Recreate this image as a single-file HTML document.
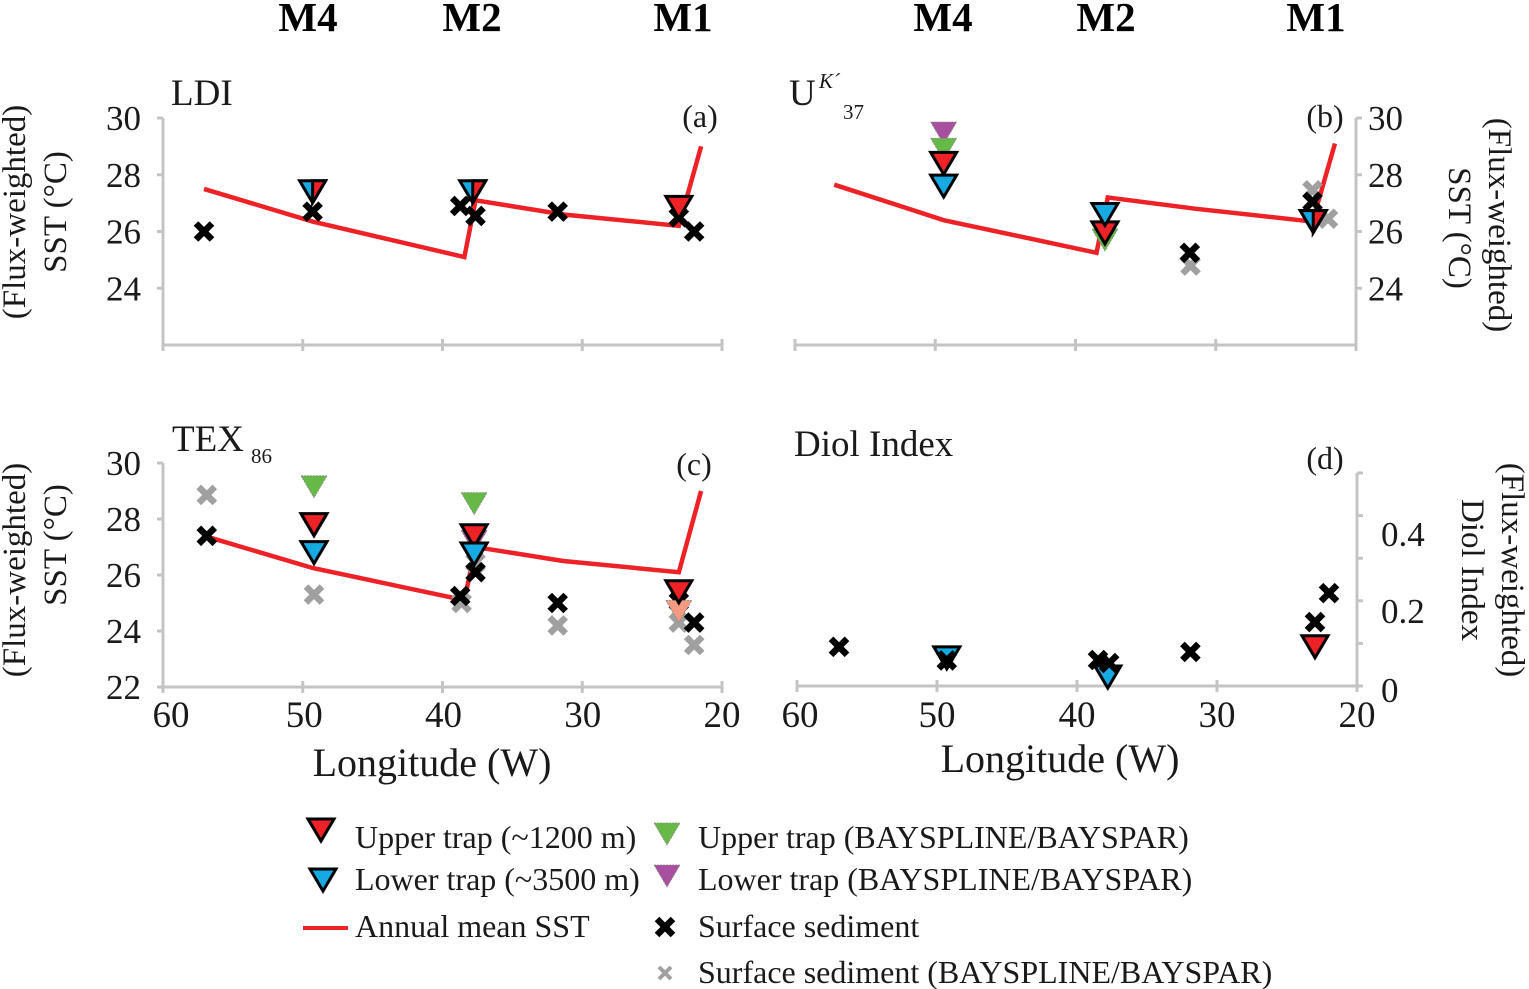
<!DOCTYPE html>
<html><head><meta charset="utf-8"><style>
html,body{margin:0;padding:0;background:#fff;}
svg{display:block;font-family:"Liberation Serif",serif;}
</style></head><body>
<svg id="fig" width="1529" height="989" viewBox="0 0 1529 989"></svg>
<script>
// ---- data ----
const lonTicks=[60,50,40,30,20];
const sstTicksTop=[30,28,26,24];
const sstTicksC=[30,28,26,24,22];
const diolTickLabels=["0.4","0.2","0"];
// annual mean SST lines [lon, value]
const lineA_lon=[57.2,49.4,38.5,37.7,31.4,23.1,21.5];
const lineA_val=[27.5,26.35,25.1,27.1,26.6,26.2,29.0];
const lineB_lon=[57.2,49.4,38.5,37.7,31.4,23.1,21.5];
const lineB_val=[27.65,26.4,25.25,27.2,26.8,26.35,29.1];
const lineC_lon=[57.2,49.4,38.5,37.7,31.4,23.1,21.5];
const lineC_val=[27.4,26.25,25.1,27.0,26.5,26.1,29.0];
// panel a
const aUpperLon=[49.4,37.9,23.1], aUpperVal=[27.4,27.4,26.85];
const aLowerLon=[49.4,37.9], aLowerVal=[27.4,27.4];
const aSedLon=[57.2,49.4,38.8,37.7,31.8,23.1,22.0], aSedVal=[26.0,26.7,26.9,26.55,26.7,26.5,26.0];
// panel b
const bPurpleLon=[49.4], bPurpleVal=[29.47];
const bGreenLon=[49.4,37.9], bGreenVal=[28.9,25.7];
const bUpperLon=[49.4,37.9,23.05], bUpperVal=[28.4,25.95,26.35];
const bLowerLon=[49.4,37.9,23.05], bLowerVal=[27.6,26.6,26.35];
const bSedLon=[31.85,23.1], bSedVal=[25.25,27.05];
const bGrayLon=[31.8,23.1,22.0], bGrayVal=[24.8,27.45,26.45];
// panel c
const cGreenLon=[49.3,37.8], cGreenVal=[29.15,28.55];
const cPurpleLon=[49.3,37.8], cPurpleVal=[27.7,27.2];
const cUpperLon=[49.3,37.8,23.1], cUpperVal=[27.8,27.4,25.4];
const cLowerLon=[49.3,37.8], cLowerVal=[26.8,26.75];
const cSalmonLon=[23.1], cSalmonVal=[24.7];
const cGrayLon=[57.0,49.3,38.7,37.7,31.8,23.1,22.0], cGrayVal=[28.86,25.3,25.0,26.45,24.2,24.3,23.5];
const cSedLon=[57.0,38.8,37.7,31.8,23.1,22.0], cSedVal=[27.4,25.25,26.1,25.0,25.05,24.3];
// panel d
const dSedLon=[57.0,49.3,38.5,37.7,31.9,23.0,22.0], dSedVal=[0.092,0.06,0.061,0.054,0.08,0.15,0.218];
const dLowerLon=[49.3,37.8], dLowerVal=[0.066,0.021];
const dUpperLon=[23.0], dUpperVal=[0.092];

const NS="http://www.w3.org/2000/svg";
const svg=document.getElementById('fig');
function el(tag,attrs,parent){const e=document.createElementNS(NS,tag);for(const k in attrs)e.setAttribute(k,attrs[k]);(parent||svg).appendChild(e);return e;}
function txt(s,x,y,size,anchor,extra){const t=el('text',Object.assign({x:x,y:y,'font-size':size,'text-anchor':anchor||'start',fill:'#1a1a1a'},extra||{}));t.textContent=s;return t;}

function mkX(x0,x1){return lon=>x0+(60-lon)/40*(x1-x0);}
function mkY(v0,y0,v1,y1){return v=>y0+(v-v0)/(v1-v0)*(y1-y0);}
const GRAY='#c4c4c4';
function axes(g,x0,x1,yTop,yBot,sideX,yTickPos,right){
  el('line',{x1:x0,y1:yBot,x2:x1,y2:yBot,stroke:GRAY,'stroke-width':3},g);
  lonTicks.forEach(l=>{const xx=x0+(60-l)/40*(x1-x0);el('line',{x1:xx,y1:yBot-6,x2:xx,y2:yBot+6,stroke:GRAY,'stroke-width':3},g);});
  el('line',{x1:sideX,y1:yTop,x2:sideX,y2:yBot,stroke:GRAY,'stroke-width':3},g);
  yTickPos.forEach(yy=>{el('line',{x1:right?sideX:sideX-6,y1:yy,x2:right?sideX+6:sideX,y2:yy,stroke:GRAY,'stroke-width':3},g);});
}
function drawLine(g,X,Y,lons,vals){
  const pts=lons.map((l,i)=>X(l)+','+Y(vals[i])).join(' ');
  const p=el('polyline',{points:pts,fill:'none',stroke:'#ec2227','stroke-width':4.5,'stroke-linejoin':'miter'},g);
  
  
}
function tri(g,x,y,fill,outline,name,half){
  const w=13,h=11;
  let pts;
  if(half==='right') pts=`${x},${y-h} ${x+w},${y-h} ${x},${y+h}`;
  else pts=`${x-w},${y-h} ${x+w},${y-h} ${x},${y+h}`;
  const p=el('polygon',{points:pts,fill:fill,stroke:outline?'#000':'#888','stroke-width':outline?3:0.8,'stroke-dasharray':outline?'none':'2 1','stroke-linejoin':'miter'},g);
  
  
}
function cross(g,x,y,color,name,small){
  const s=small?6:8,sw=small?4:6.5;
  const gg=el('g',{},g);
  
  
  el('line',{x1:x-s,y1:y-s,x2:x+s,y2:y+s,stroke:color,'stroke-width':sw},gg);
  el('line',{x1:x-s,y1:y+s,x2:x+s,y2:y-s,stroke:color,'stroke-width':sw},gg);
}
function pts(g,X,Y,lons,vals,fn){lons.forEach((l,i)=>fn(X(l),Y(vals[i])));}

// ---- column headers ----
[['M4',308],['M2',472],['M1',683],['M4',943],['M2',1106],['M1',1316]].forEach(([s,x])=>{
  const t=txt(s,x,31,41,'middle',{'font-weight':'bold',fill:'#000'});
  
  
});

// ---- panel a ----
{
const g=el('g',{});
const X=mkX(165,722),Y=mkY(30,118,22,345);
axes(g,163,722,118,345,163,sstTicksTop.map(Y),false);
sstTicksTop.forEach(v=>txt(String(v),141,Y(v)+12,35,'end'));
txt('LDI',171,105,37);txt('(a)',700,127,32,'middle');
txt('(Flux-weighted)',0,0,33,'middle',{transform:'translate(25,212) rotate(-90)'});
txt('SST (°C)',0,0,33,'middle',{transform:'translate(66,212) rotate(-90)'});
drawLine(g,X,Y,lineA_lon,lineA_val);
pts(g,X,Y,aSedLon,aSedVal,(x,y)=>cross(g,x,y,'#000','surface-sediment'));
pts(g,X,Y,aLowerLon,aLowerVal,(x,y)=>tri(g,x,y,'#17a9e1',true,'lower-trap'));
pts(g,X,Y,aUpperLon,aUpperVal,(x,y)=>tri(g,x,y,'#ec2227',true,'upper-trap',aLowerLon.length&&x<600?'right':null));
}
// ---- panel b ----
{
const g=el('g',{});
const X=mkX(795,1356),Y=mkY(30,118,22,345);
axes(g,795,1356,118,345,1356,sstTicksTop.map(Y),true);
sstTicksTop.forEach(v=>txt(String(v),1368,Y(v)+12,35,'start'));
txt('U',789,105,37);
txt('K´',819,88,21,'start',{'font-style':'italic'});
txt('37',843,119,21);
txt('(b)',1325,127,32,'middle');
txt('(Flux-weighted)',0,0,33,'middle',{transform:'translate(1489,225) rotate(90)'});
txt('SST (°C)',0,0,33,'middle',{transform:'translate(1449,228) rotate(90)'});
drawLine(g,X,Y,lineB_lon,lineB_val);
pts(g,X,Y,bGrayLon,bGrayVal,(x,y)=>cross(g,x,y,'#a0a0a0','surface-sediment-bayspar'));
pts(g,X,Y,bSedLon,bSedVal,(x,y)=>cross(g,x,y,'#000','surface-sediment'));
pts(g,X,Y,bPurpleLon,bPurpleVal,(x,y)=>tri(g,x,y,'#a94fa0',false,'lower-trap-bayspar'));
pts(g,X,Y,bGreenLon,bGreenVal,(x,y)=>tri(g,x,y,'#67b947',false,'upper-trap-bayspline'));
pts(g,X,Y,bUpperLon,bUpperVal,(x,y)=>tri(g,x,y,'#ec2227',true,'upper-trap'));
pts(g,X,Y,bLowerLon,bLowerVal,(x,y)=>tri(g,x,y,'#17a9e1',true,'lower-trap'));
tri(g,X(bUpperLon[2]),Y(bUpperVal[2]),'#ec2227',true,'upper-trap','right');
}
// ---- panel c ----
{
const g=el('g',{});
const X=mkX(165,722),Y=mkY(30,463,22,687);
axes(g,163,722,463,687,163,sstTicksC.map(Y),false);
sstTicksC.forEach(v=>txt(String(v),141,Y(v)+12,35,'end'));
lonTicks.forEach(l=>txt(String(l),X(l)+(l===60?6:0),727,37,'middle'));
txt('TEX',172,451,37);txt('86',251,463,21);
txt('(c)',694,475,32,'middle');
txt('(Flux-weighted)',0,0,33,'middle',{transform:'translate(25,570) rotate(-90)'});
txt('SST (°C)',0,0,33,'middle',{transform:'translate(66,545) rotate(-90)'});
txt('Longitude (W)',432,776,40,'middle');
drawLine(g,X,Y,lineC_lon,lineC_val);
pts(g,X,Y,cGrayLon,cGrayVal,(x,y)=>cross(g,x,y,'#a0a0a0','surface-sediment-bayspar'));
pts(g,X,Y,cSedLon,cSedVal,(x,y)=>cross(g,x,y,'#000','surface-sediment'));
pts(g,X,Y,cGreenLon,cGreenVal,(x,y)=>tri(g,x,y,'#67b947',false,'upper-trap-bayspline'));
pts(g,X,Y,cPurpleLon,cPurpleVal,(x,y)=>tri(g,x,y,'#a94fa0',false,'lower-trap-bayspar'));
pts(g,X,Y,cSalmonLon,cSalmonVal,(x,y)=>tri(g,x,y,'#f39a80',false,'upper-trap-bayspar'));
pts(g,X,Y,cUpperLon,cUpperVal,(x,y)=>tri(g,x,y,'#ec2227',true,'upper-trap'));
pts(g,X,Y,cLowerLon,cLowerVal,(x,y)=>tri(g,x,y,'#17a9e1',true,'lower-trap'));
}
// ---- panel d ----
{
const g=el('g',{});
const X=mkX(797,1357),Y=mkY(0,686,0.5,473);
axes(g,797,1357,473,686,1357,[0,0.1,0.2,0.3,0.4,0.5].map(Y),true);
const dPos=[546,623,702];
diolTickLabels.forEach((s,i)=>txt(s,1381,dPos[i],35,'start'));
lonTicks.forEach(l=>txt(String(l),X(l)+(l===60?3:0),727,37,'middle'));
txt('Diol Index',794,456,37);txt('(d)',1325,469,32,'middle');
txt('(Flux-weighted)',0,0,33,'middle',{transform:'translate(1502,570) rotate(90)'});
txt('Diol Index',0,0,33,'middle',{transform:'translate(1462,570) rotate(90)'});
txt('Longitude (W)',1060,772,40,'middle');
pts(g,X,Y,dLowerLon,dLowerVal,(x,y)=>tri(g,x,y,'#17a9e1',true,'lower-trap'));
pts(g,X,Y,dSedLon,dSedVal,(x,y)=>cross(g,x,y,'#000','surface-sediment'));
pts(g,X,Y,dUpperLon,dUpperVal,(x,y)=>tri(g,x,y,'#ec2227',true,'upper-trap'));
}
// ---- legend ----
{
const g=el('g',{});
tri(g,321,830,'#ec2227',true,'legend-upper-trap-marker');
txt('Upper trap (~1200 m)',355,848,32);
tri(g,323,880,'#17a9e1',true,'legend-lower-trap-marker');
txt('Lower trap (~3500 m)',355,890,32);
const l=el('line',{x1:303,y1:928,x2:348,y2:928,stroke:'#ec2227',"stroke-width":4},g);


txt('Annual mean SST',355,937,32);
tri(g,667,834,'#67b947',false,'legend-green-marker');
txt('Upper trap (BAYSPLINE/BAYSPAR)',698,848,32);
tri(g,667,876,'#a94fa0',false,'legend-purple-marker');
txt('Lower trap (BAYSPLINE/BAYSPAR)',698,890,32);
cross(g,665,927,'#000','legend-sediment-marker');
txt('Surface sediment',698,937,32);
cross(g,665,973,'#a0a0a0','legend-sediment-bayspar-marker',true);
txt('Surface sediment (BAYSPLINE/BAYSPAR)',698,983,32);
}
</script>
</body></html>
